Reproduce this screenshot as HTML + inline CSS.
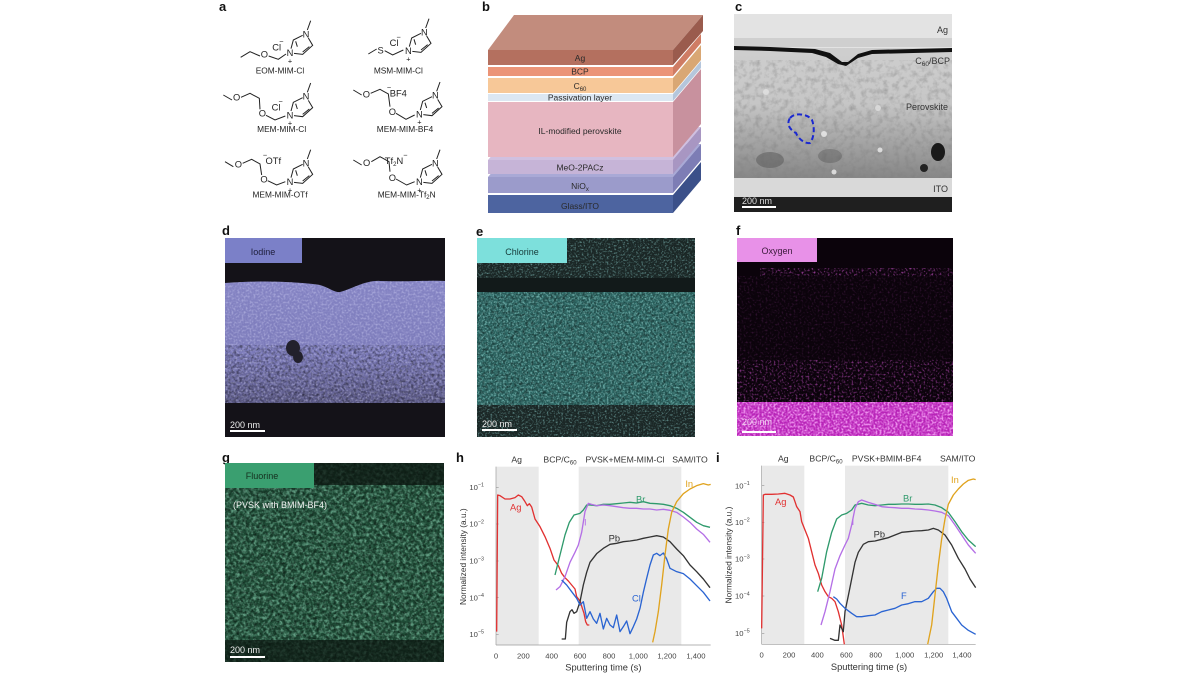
<!DOCTYPE html>
<html><head><meta charset="utf-8"><style>
html,body{margin:0;padding:0;background:#fff;}
body{width:1200px;height:675px;overflow:hidden;font-family:"Liberation Sans",sans-serif;}
svg text{font-family:"Liberation Sans",sans-serif;}
</style></head><body>
<svg width="1200" height="675" viewBox="0 0 1200 675" xmlns="http://www.w3.org/2000/svg">
<defs>
<filter id="nzK" x="0" y="0" width="1" height="1"><feTurbulence type="fractalNoise" baseFrequency="0.35" numOctaves="2" seed="7"/><feColorMatrix type="matrix" values="0 0 0 0 0  0 0 0 0 0  0 0 0 0 0  2.4 0 0 0 -1.0"/></filter>
<filter id="nzP" x="0" y="0" width="1" height="1"><feTurbulence type="fractalNoise" baseFrequency="0.5" numOctaves="2" seed="5"/><feColorMatrix type="matrix" values="0 0 0 0 0.75  0 0 0 0 0.75  0 0 0 0 1  2.6 0 0 0 -1.1"/></filter>
<filter id="nzT" x="0" y="0" width="1" height="1"><feTurbulence type="fractalNoise" baseFrequency="0.55" numOctaves="2" seed="9"/><feColorMatrix type="matrix" values="0 0 0 0 0.45  0 0 0 0 0.95  0 0 0 0 0.9  3 0 0 0 -1.3"/></filter>
<filter id="nzT2" x="0" y="0" width="1" height="1"><feTurbulence type="fractalNoise" baseFrequency="0.55" numOctaves="2" seed="11"/><feColorMatrix type="matrix" values="0 0 0 0 0.3  0 0 0 0 0.7  0 0 0 0 0.68  3 0 0 0 -1.5"/></filter>
<filter id="nzM" x="0" y="0" width="1" height="1"><feTurbulence type="fractalNoise" baseFrequency="0.5" numOctaves="2" seed="13"/><feColorMatrix type="matrix" values="0 0 0 0 1  0 0 0 0 0.45  0 0 0 0 1  3 0 0 0 -1.2"/></filter>
<filter id="nzM2" x="0" y="0" width="1" height="1"><feTurbulence type="fractalNoise" baseFrequency="0.5" numOctaves="2" seed="17"/><feColorMatrix type="matrix" values="0 0 0 0 0.7  0 0 0 0 0.1  0 0 0 0 0.7  3 0 0 0 -1.55"/></filter>
<filter id="nzG" x="0" y="0" width="1" height="1"><feTurbulence type="fractalNoise" baseFrequency="0.3" numOctaves="2" seed="21"/><feColorMatrix type="matrix" values="0 0 0 0 0.35  0 0 0 0 0.85  0 0 0 0 0.6  2.8 0 0 0 -1.1"/></filter>
<filter id="nzGr" x="0" y="0" width="1" height="1"><feTurbulence type="fractalNoise" baseFrequency="0.18" numOctaves="3" seed="4"/><feColorMatrix type="matrix" values="0 0 0 0 0.2  0 0 0 0 0.2  0 0 0 0 0.2  2.2 0 0 0 -0.95"/></filter>
<clipPath id="dclip"><path d="M225,283 C260,280 300,282 320,285 C330,288 335,293 340,292 C350,290 365,280 380,281 C410,282 430,280 445,281 L445,403 L225,403 Z"/></clipPath>
<linearGradient id="cgr" x1="0" y1="0" x2="0" y2="1"><stop offset="0" stop-color="#d4d4d4"/><stop offset="0.45" stop-color="#c6c6c6"/><stop offset="0.65" stop-color="#a4a4a4"/><stop offset="0.82" stop-color="#888"/><stop offset="1" stop-color="#6c6c6c"/></linearGradient>
<linearGradient id="dgr" x1="0" y1="0" x2="0" y2="1"><stop offset="0" stop-color="#8584c4"/><stop offset="0.6" stop-color="#7c7bba"/><stop offset="1" stop-color="#5c5a88"/></linearGradient>
</defs>

<!-- panel letters -->
<g font-weight="bold" font-size="13" fill="#111">
<text x="219" y="11">a</text><text x="482" y="11">b</text><text x="735" y="11">c</text>
<text x="222" y="235">d</text><text x="476" y="236">e</text><text x="736" y="235">f</text>
<text x="222" y="462">g</text><text x="456" y="462">h</text><text x="716" y="462">i</text>
</g>

<!-- Panel a -->
<svg x="210" y="0" width="260" height="220" viewBox="0 0 780 660">
<g stroke="#222" stroke-width="3" fill="none">
 <g transform="translate(240,158)"><polyline points="3,-12 10,-38 38,-52"/><line x1="17" y1="-34" x2="22" y2="-18"/><polyline points="55,-44 68,-22 38,5 12,2"/><line x1="58" y1="-18" x2="38" y2="-2"/><line x1="52" y1="-68" x2="62" y2="-96"/></g>
 <g transform="translate(595,152)"><polyline points="3,-12 10,-38 38,-52"/><line x1="17" y1="-34" x2="22" y2="-18"/><polyline points="55,-44 68,-22 38,5 12,2"/><line x1="58" y1="-18" x2="38" y2="-2"/><line x1="52" y1="-68" x2="62" y2="-96"/></g>
 <g transform="translate(240,345)"><polyline points="3,-12 10,-38 38,-52"/><line x1="17" y1="-34" x2="22" y2="-18"/><polyline points="55,-44 68,-22 38,5 12,2"/><line x1="58" y1="-18" x2="38" y2="-2"/><line x1="52" y1="-68" x2="62" y2="-96"/></g>
 <g transform="translate(628,342)"><polyline points="3,-12 10,-38 38,-52"/><line x1="17" y1="-34" x2="22" y2="-18"/><polyline points="55,-44 68,-22 38,5 12,2"/><line x1="58" y1="-18" x2="38" y2="-2"/><line x1="52" y1="-68" x2="62" y2="-96"/></g>
 <g transform="translate(240,545)"><polyline points="3,-12 10,-38 38,-52"/><line x1="17" y1="-34" x2="22" y2="-18"/><polyline points="55,-44 68,-22 38,5 12,2"/><line x1="58" y1="-18" x2="38" y2="-2"/><line x1="52" y1="-68" x2="62" y2="-96"/></g>
 <g transform="translate(628,545)"><polyline points="3,-12 10,-38 38,-52"/><line x1="17" y1="-34" x2="22" y2="-18"/><polyline points="55,-44 68,-22 38,5 12,2"/><line x1="58" y1="-18" x2="38" y2="-2"/><line x1="52" y1="-68" x2="62" y2="-96"/></g>
 <polyline points="92,172 120,155 150,168"/><polyline points="176,168 205,178 228,162"/>
 <polyline points="475,162 500,147"/><polyline points="524,152 548,165 580,150"/>
 <polyline points="40,285 66,300"/><polyline points="93,292 120,280 148,295 150,328"/><polyline points="168,346 195,360 226,348"/>
 <polyline points="430,270 455,285"/><polyline points="482,280 510,268 535,282 540,320"/><polyline points="558,340 588,358 614,345"/>
 <polyline points="45,485 70,500"/><polyline points="98,490 125,478 150,492 155,525"/><polyline points="173,542 200,555 226,545"/>
 <polyline points="430,480 455,495"/><polyline points="484,485 510,470 537,485 540,515"/><polyline points="558,537 590,555 614,545"/>
</g>
<g font-size="28" fill="#222" text-anchor="middle">
 <text x="240" y="168">N</text><text x="288" y="112">N</text><text x="240" y="190" font-size="22">+</text>
 <text x="595" y="162">N</text><text x="643" y="106">N</text><text x="595" y="184" font-size="22">+</text>
 <text x="240" y="355">N</text><text x="288" y="299">N</text><text x="240" y="377" font-size="22">+</text>
 <text x="628" y="352">N</text><text x="676" y="296">N</text><text x="628" y="374" font-size="22">+</text>
 <text x="240" y="555">N</text><text x="288" y="499">N</text><text x="240" y="577" font-size="22">+</text>
 <text x="628" y="555">N</text><text x="676" y="499">N</text><text x="628" y="577" font-size="22">+</text>
 <text x="163" y="172">O</text><text x="512" y="160">S</text>
 <text x="80" y="302">O</text><text x="157" y="350">O</text>
 <text x="469" y="292">O</text><text x="547" y="345">O</text>
 <text x="85" y="502">O</text><text x="162" y="548">O</text>
 <text x="470" y="498">O</text><text x="547" y="543">O</text>
 <text x="200" y="152">Cl</text><text x="214" y="132" font-size="22">−</text>
 <text x="552" y="138">Cl</text><text x="566" y="118" font-size="22">−</text>
 <text x="198" y="332">Cl</text><text x="212" y="312" font-size="22">−</text>
 <text x="565" y="290">BF4</text><text x="537" y="270" font-size="22">−</text>
 <text x="190" y="492">OTf</text><text x="165" y="472" font-size="22">−</text>
 <text x="552" y="492">Tf<tspan font-size="18" dy="6">2</tspan><tspan dy="-6">N</tspan></text><text x="586" y="472" font-size="22">−</text>
</g>
<g font-size="25" fill="#222" text-anchor="middle">
 <text x="210" y="220">EOM-MIM-Cl</text>
 <text x="565" y="220">MSM-MIM-Cl</text>
 <text x="215" y="396">MEM-MIM-Cl</text>
 <text x="585" y="396">MEM-MIM-BF4</text>
 <text x="210" y="592">MEM-MIM-OTf</text>
 <text x="590" y="592">MEM-MIM-Tf<tspan font-size="18" dy="5">2</tspan><tspan dy="-5">N</tspan></text>
</g>
</svg>

<!-- Panel b -->
<g>
 <polygon points="673,195 701,162 701,180 673,213" fill="#3b5089"/><rect x="488" y="195" width="185" height="18" fill="#4d64a0"/>
 <polygon points="488,177 516,144 701,144 673,177" fill="#a9a9d6"/><polygon points="673,177 701,144 701,160 673,193" fill="#7d7db5"/><rect x="488" y="177" width="185" height="16" fill="#9b9bcb"/>
 <polygon points="488,160 516,127 701,127 673,160" fill="#d0c0e0"/><polygon points="673,160 701,127 701,141 673,174" fill="#a896c2"/><rect x="488" y="160" width="185" height="14" fill="#c6b4d7"/>
 <polygon points="673,102 701,69 701,124 673,157" fill="#c8919e"/><rect x="488" y="102" width="185" height="55" fill="#e7b6c1"/>
 <polygon points="673,94 701,61 701,68 673,101" fill="#b5c6dc"/><rect x="488" y="94" width="185" height="7" fill="#dce7f2"/>
 <polygon points="673,78 701,45 701,60 673,93" fill="#d9a774"/><rect x="488" y="78" width="185" height="15" fill="#f7c898"/>
 <polygon points="673,67 701,34 701,43 673,76" fill="#cf7c64"/><rect x="488" y="67" width="185" height="9" fill="#eb9477"/>
 <polygon points="488,50 514,15 703,15 673,50" fill="#c28c7d"/><polygon points="673,50 703,15 703,31 673,65" fill="#9a5b4d"/><rect x="488" y="50" width="185" height="15" fill="#b4705f"/>
 <g font-size="8.5" fill="#2a2a2a" text-anchor="middle">
  <text x="580" y="61">Ag</text><text x="580" y="74.5">BCP</text>
  <text x="580" y="89">C<tspan font-size="6" dy="2">60</tspan></text>
  <text x="580" y="100.5">Passivation layer</text>
  <text x="580" y="134">IL-modified perovskite</text>
  <text x="580" y="170.5">MeO-2PACz</text>
  <text x="580" y="189">NiO<tspan font-size="6" dy="2">x</tspan></text>
  <text x="580" y="209">Glass/ITO</text>
 </g>
</g>

<!-- Panel c -->
<g>
 <rect x="734" y="14" width="218" height="198" fill="url(#cgr)"/>
 <rect x="734" y="60" width="218" height="118" filter="url(#nzGr)" opacity="0.45"/>
 <rect x="734" y="14" width="218" height="34" fill="#e3e3e3"/>
 <rect x="734" y="38" width="218" height="9" fill="#cfcfcf"/>
 <path d="M734,46 L770,47 L815,49 L830,53 L842,62 L848,62 L858,54 L872,50 L952,48 L952,52 L872,54 L858,58 L846,66 L838,64 L826,57 L812,53 L770,51 L734,50 Z" fill="#111"/>
 <ellipse cx="938" cy="152" rx="7" ry="9" fill="#1a1a1a"/><ellipse cx="924" cy="168" rx="4" ry="4" fill="#222"/>
 <ellipse cx="770" cy="160" rx="14" ry="8" fill="#555" opacity="0.5"/>
 <ellipse cx="830" cy="156" rx="12" ry="7" fill="#555" opacity="0.4"/>
 <circle cx="824" cy="134" r="3" fill="#eee" opacity="0.8"/><circle cx="880" cy="150" r="2.5" fill="#eee" opacity="0.8"/><circle cx="834" cy="172" r="2.5" fill="#eee" opacity="0.8"/><circle cx="766" cy="92" r="3" fill="#e6e6e6" opacity="0.7"/><circle cx="878" cy="108" r="3" fill="#e6e6e6" opacity="0.7"/>
 <rect x="734" y="178" width="218" height="19" fill="#d9d9d9"/>
 <rect x="734" y="197" width="218" height="15" fill="#1f1f1f"/>
 <path d="M790,118 C795,112 808,114 812,120 C815,128 814,138 810,143 C804,144 798,138 796,133 C790,130 786,124 790,118 Z" fill="none" stroke="#1a28d0" stroke-width="2" stroke-dasharray="5,3"/>
 <g font-size="9" fill="#333" text-anchor="end">
  <text x="948" y="33">Ag</text>
  <text x="950" y="64">C<tspan font-size="6.5" dy="2">60</tspan><tspan dy="-2">/BCP</tspan></text>
  <text x="948" y="110">Perovskite</text>
  <text x="948" y="192">ITO</text>
 </g>
 <text x="742" y="204" font-size="9" fill="#ddd">200 nm</text>
 <rect x="742" y="206" width="34" height="2" fill="#fff"/>
</g>

<!-- Panel d -->
<g>
 <rect x="225" y="238" width="220" height="199" fill="#141218"/>
 <g clip-path="url(#dclip)">
  <rect x="225" y="278" width="220" height="126" fill="url(#dgr)"/>
  <rect x="225" y="278" width="220" height="126" filter="url(#nzP)" opacity="0.4"/>
  <rect x="225" y="345" width="220" height="59" filter="url(#nzK)" opacity="0.45"/>
 </g>
 <ellipse cx="293" cy="348" rx="7" ry="8" fill="#22202c"/><ellipse cx="298" cy="357" rx="5" ry="6" fill="#22202c"/>
 <rect x="225" y="238" width="77" height="25" fill="#7b80c8"/>
 <text x="263" y="255" font-size="9" fill="#1d1d3a" text-anchor="middle">Iodine</text>
 <text x="230" y="428" font-size="9" fill="#eee">200 nm</text>
 <rect x="230" y="430" width="35" height="2" fill="#fff"/>
</g>

<!-- Panel e -->
<g>
 <rect x="477" y="238" width="218" height="199" fill="#1b2726"/>
 <rect x="477" y="238" width="218" height="42" filter="url(#nzT2)" opacity="0.55"/>
 <rect x="477" y="278" width="218" height="14" fill="#121a1a"/>
 <rect x="477" y="292" width="218" height="113" fill="#2c6461"/>
 <rect x="477" y="292" width="218" height="113" filter="url(#nzT)" opacity="0.5"/>
 <rect x="477" y="292" width="218" height="113" filter="url(#nzK)" opacity="0.45"/>
 <rect x="477" y="405" width="218" height="32" filter="url(#nzT2)" opacity="0.55"/>
 <rect x="477" y="238" width="90" height="25" fill="#7de0dc"/>
 <text x="522" y="255" font-size="9" fill="#163a38" text-anchor="middle">Chlorine</text>
 <text x="482" y="427" font-size="9" fill="#eee">200 nm</text>
 <rect x="482" y="429" width="35" height="2" fill="#fff"/>
</g>

<!-- Panel f -->
<g>
 <rect x="737" y="238" width="216" height="198" fill="#0b030b"/>
 <rect x="760" y="268" width="193" height="8" filter="url(#nzM2)" opacity="0.7"/>
 <rect x="737" y="276" width="216" height="126" filter="url(#nzM2)" opacity="0.2"/>
 <rect x="737" y="360" width="216" height="42" filter="url(#nzM2)" opacity="0.5"/>
 <rect x="737" y="402" width="216" height="34" fill="#b824b8"/>
 <rect x="737" y="402" width="216" height="34" filter="url(#nzM)" opacity="0.8"/>
 <rect x="737" y="238" width="80" height="24" fill="#e891e8"/>
 <text x="777" y="254" font-size="9" fill="#3a1a3a" text-anchor="middle">Oxygen</text>
 <text x="742" y="425" font-size="9" fill="#f0d0f0">200 nm</text>
 <rect x="742" y="431" width="34" height="2" fill="#fff"/>
</g>

<!-- Panel g -->
<g>
 <rect x="225" y="463" width="219" height="199" fill="#0e1a14"/>
 <rect x="225" y="463" width="219" height="199" fill="#24583f" opacity="0.8"/>
 <rect x="225" y="463" width="219" height="199" filter="url(#nzG)" opacity="0.5"/>
 <rect x="225" y="463" width="219" height="199" filter="url(#nzK)" opacity="0.5"/>
 <rect x="314" y="463" width="130" height="22" fill="#0c1510" opacity="0.75"/>
 <rect x="225" y="640" width="219" height="22" fill="#0c1510" opacity="0.7"/>
 <rect x="225" y="463" width="89" height="25" fill="#3a9f70"/>
 <text x="262" y="479" font-size="9" fill="#15301f" text-anchor="middle">Fluorine</text>
 <text x="233" y="508" font-size="9" fill="#f2f2f2">(PVSK with BMIM-BF4)</text>
 <text x="230" y="653" font-size="9" fill="#eee">200 nm</text>
 <rect x="230" y="656" width="35" height="2" fill="#fff"/>
</g>

<!-- Panel h -->
<svg x="450" y="445" width="275" height="230" viewBox="0 0 825 690">
 <rect x="138" y="65" width="128" height="535" fill="#e9e9e9"/>
 <rect x="386" y="65" width="308" height="535" fill="#e9e9e9"/>
 <g stroke="#9a9a9a" stroke-width="2" fill="none">
  <line x1="138" y1="65" x2="138" y2="600"/><line x1="138" y1="600" x2="782" y2="600"/>
  <line x1="138" y1="127" x2="146" y2="127"/><line x1="138" y1="237" x2="146" y2="237"/><line x1="138" y1="348" x2="146" y2="348"/><line x1="138" y1="458" x2="146" y2="458"/><line x1="138" y1="568" x2="146" y2="568"/>
 </g>
 <g font-size="26" fill="#333" text-anchor="middle">
  <text x="200" y="53">Ag</text>
  <text x="330" y="53">BCP/C<tspan font-size="18" dy="6">60</tspan></text>
  <text x="525" y="53">PVSK+MEM-MIM-Cl</text>
  <text x="720" y="53">SAM/ITO</text>
 </g>
 <g font-size="23" fill="#444" text-anchor="end">
  <text x="102" y="135">10<tspan font-size="16" dy="-10">−1</tspan></text>
  <text x="102" y="245">10<tspan font-size="16" dy="-10">−2</tspan></text>
  <text x="102" y="356">10<tspan font-size="16" dy="-10">−3</tspan></text>
  <text x="102" y="466">10<tspan font-size="16" dy="-10">−4</tspan></text>
  <text x="102" y="576">10<tspan font-size="16" dy="-10">−5</tspan></text>
 </g>
 <g font-size="23" fill="#444" text-anchor="middle">
  <text x="138" y="640">0</text><text x="220" y="640">200</text><text x="305" y="640">400</text><text x="390" y="640">600</text><text x="477" y="640">800</text><text x="565" y="640">1,000</text><text x="651" y="640">1,200</text><text x="738" y="640">1,400</text>
 </g>
 <text x="460" y="677" font-size="28" fill="#333" text-anchor="middle">Sputtering time (s)</text>
 <text transform="translate(48,335) rotate(-90)" font-size="25" fill="#333" text-anchor="middle">Normalized intensity (a.u.)</text>
 <g fill="none" stroke-width="4" stroke-linejoin="round">
  <polyline stroke="#e13131" points="140,560 143,150 150,152 165,162 180,162 195,158 205,150 215,155 225,170 232,182 238,176 245,186 255,222 270,245 285,275 300,310 312,345 325,362 335,385 345,398 355,408 365,420 375,432 380,455 390,468 397,490 402,505 407,530 412,540 418,540"/>
  <polyline stroke="#2f9a6c" points="315,390 330,330 345,270 358,232 372,210 390,205 400,195 410,180 420,180 440,182 460,178 480,178 500,176 520,174 540,172 560,174 580,170 600,175 620,176 640,178 660,182 680,190 700,202 720,217 740,232 760,242 780,247"/>
  <polyline stroke="#b46fe6" points="318,435 330,425 345,395 360,352 375,322 385,300 395,262 405,200 415,175 425,178 440,182 460,180 480,182 500,185 520,188 540,190 560,190 580,192 600,192 620,195 640,193 660,196 680,202 700,216 720,232 740,252 760,268 780,292"/>
  <polyline stroke="#333" points="335,582 346,582 350,532 360,500 366,494 372,505 380,500 390,470 400,420 410,382 420,352 440,326 460,310 480,298 500,295 520,290 540,288 560,285 580,280 600,276 620,272 640,276 660,290 680,312 700,332 720,360 740,380 760,402 780,428"/>
  <polyline stroke="#2a64d2" points="335,405 350,420 365,440 380,460 390,480 400,470 410,520 420,500 430,522 440,535 450,505 460,552 470,520 480,540 490,548 500,510 510,560 520,545 530,528 540,566 550,545 560,522 570,490 580,442 590,400 600,360 610,330 620,325 630,332 640,324 650,342 660,370 680,380 700,386 720,402 740,422 760,442 780,468"/>
  <polyline stroke="#e0a31e" points="608,592 615,560 625,500 635,420 645,330 655,252 665,202 680,170 700,146 720,132 740,122 760,116 775,120 782,118"/>
 </g>
 <g font-size="28">
  <text x="180" y="196" fill="#e13131">Ag</text>
  <text x="558" y="172" fill="#2f9a6c">Br</text>
  <text x="402" y="242" fill="#b46fe6">I</text>
  <text x="476" y="290" fill="#333">Pb</text>
  <text x="546" y="470" fill="#2a64d2">Cl</text>
  <text x="706" y="126" fill="#e0a31e">In</text>
 </g>
</svg>

<!-- Panel i -->
<svg x="715" y="445" width="275" height="230" viewBox="0 0 825 690">
 <rect x="140" y="62" width="128" height="536" fill="#e9e9e9"/>
 <rect x="390" y="62" width="310" height="536" fill="#e9e9e9"/>
 <g stroke="#9a9a9a" stroke-width="2" fill="none">
  <line x1="140" y1="62" x2="140" y2="598"/><line x1="140" y1="598" x2="782" y2="598"/>
  <line x1="140" y1="122" x2="148" y2="122"/><line x1="140" y1="232" x2="148" y2="232"/><line x1="140" y1="342" x2="148" y2="342"/><line x1="140" y1="453" x2="148" y2="453"/><line x1="140" y1="565" x2="148" y2="565"/>
 </g>
 <g font-size="26" fill="#333" text-anchor="middle">
  <text x="205" y="50">Ag</text>
  <text x="333" y="50">BCP/C<tspan font-size="18" dy="6">60</tspan></text>
  <text x="515" y="50">PVSK+BMIM-BF4</text>
  <text x="728" y="50">SAM/ITO</text>
 </g>
 <g font-size="23" fill="#444" text-anchor="end">
  <text x="104" y="130">10<tspan font-size="16" dy="-10">−1</tspan></text>
  <text x="104" y="240">10<tspan font-size="16" dy="-10">−2</tspan></text>
  <text x="104" y="350">10<tspan font-size="16" dy="-10">−3</tspan></text>
  <text x="104" y="461">10<tspan font-size="16" dy="-10">−4</tspan></text>
  <text x="104" y="573">10<tspan font-size="16" dy="-10">−5</tspan></text>
 </g>
 <g font-size="23" fill="#444" text-anchor="middle">
  <text x="140" y="638">0</text><text x="222" y="638">200</text><text x="307" y="638">400</text><text x="394" y="638">600</text><text x="482" y="638">800</text><text x="569" y="638">1,000</text><text x="656" y="638">1,200</text><text x="741" y="638">1,400</text>
 </g>
 <text x="462" y="675" font-size="28" fill="#333" text-anchor="middle">Sputtering time (s)</text>
 <text transform="translate(50,330) rotate(-90)" font-size="25" fill="#333" text-anchor="middle">Normalized intensity (a.u.)</text>
 <g fill="none" stroke-width="4" stroke-linejoin="round">
  <polyline stroke="#e13131" points="140,550 145,150 150,148 170,148 190,147 210,145 225,150 235,156 240,170 245,185 255,200 260,230 270,255 280,280 290,320 300,360 310,385 320,420 330,440 340,455 350,460 360,470 370,500 380,540 388,598"/>
  <polyline stroke="#2f9a6c" points="308,440 320,400 335,320 350,262 365,222 380,210 395,205 410,195 420,180 440,175 460,180 480,182 500,180 520,178 540,178 560,177 580,177 600,178 620,178 640,177 660,180 680,188 700,202 720,230 740,260 760,285 782,305"/>
  <polyline stroke="#b46fe6" points="318,540 330,500 345,440 360,372 375,332 390,300 400,280 410,240 420,190 430,170 440,165 460,172 480,178 500,185 520,187 540,188 560,190 580,190 600,192 620,193 640,195 660,198 680,202 700,212 720,240 740,270 760,300 782,325"/>
  <polyline stroke="#333" points="345,580 360,586 370,586 375,540 385,560 390,500 400,452 410,402 420,352 430,322 445,298 460,290 480,288 500,283 520,278 540,270 560,262 580,260 600,258 620,257 640,255 655,250 670,255 690,270 710,300 730,340 750,372 765,402 782,428"/>
  <polyline stroke="#2a64d2" points="355,455 365,462 375,475 390,490 410,505 425,515 440,515 460,512 480,510 500,500 520,495 540,490 560,480 580,476 600,470 620,470 640,460 655,440 665,430 675,430 685,440 695,460 710,500 725,520 740,540 760,556 782,568"/>
  <polyline stroke="#e0a31e" points="638,598 650,540 660,450 670,360 680,282 690,222 700,178 715,150 730,132 745,117 760,106 775,102 782,104"/>
 </g>
 <g font-size="28">
  <text x="180" y="180" fill="#e13131">Ag</text>
  <text x="564" y="170" fill="#2f9a6c">Br</text>
  <text x="410" y="240" fill="#b46fe6">I</text>
  <text x="476" y="277" fill="#333">Pb</text>
  <text x="558" y="462" fill="#2a64d2">F</text>
  <text x="708" y="114" fill="#e0a31e">In</text>
 </g>
</svg>
</svg>
</body></html>
